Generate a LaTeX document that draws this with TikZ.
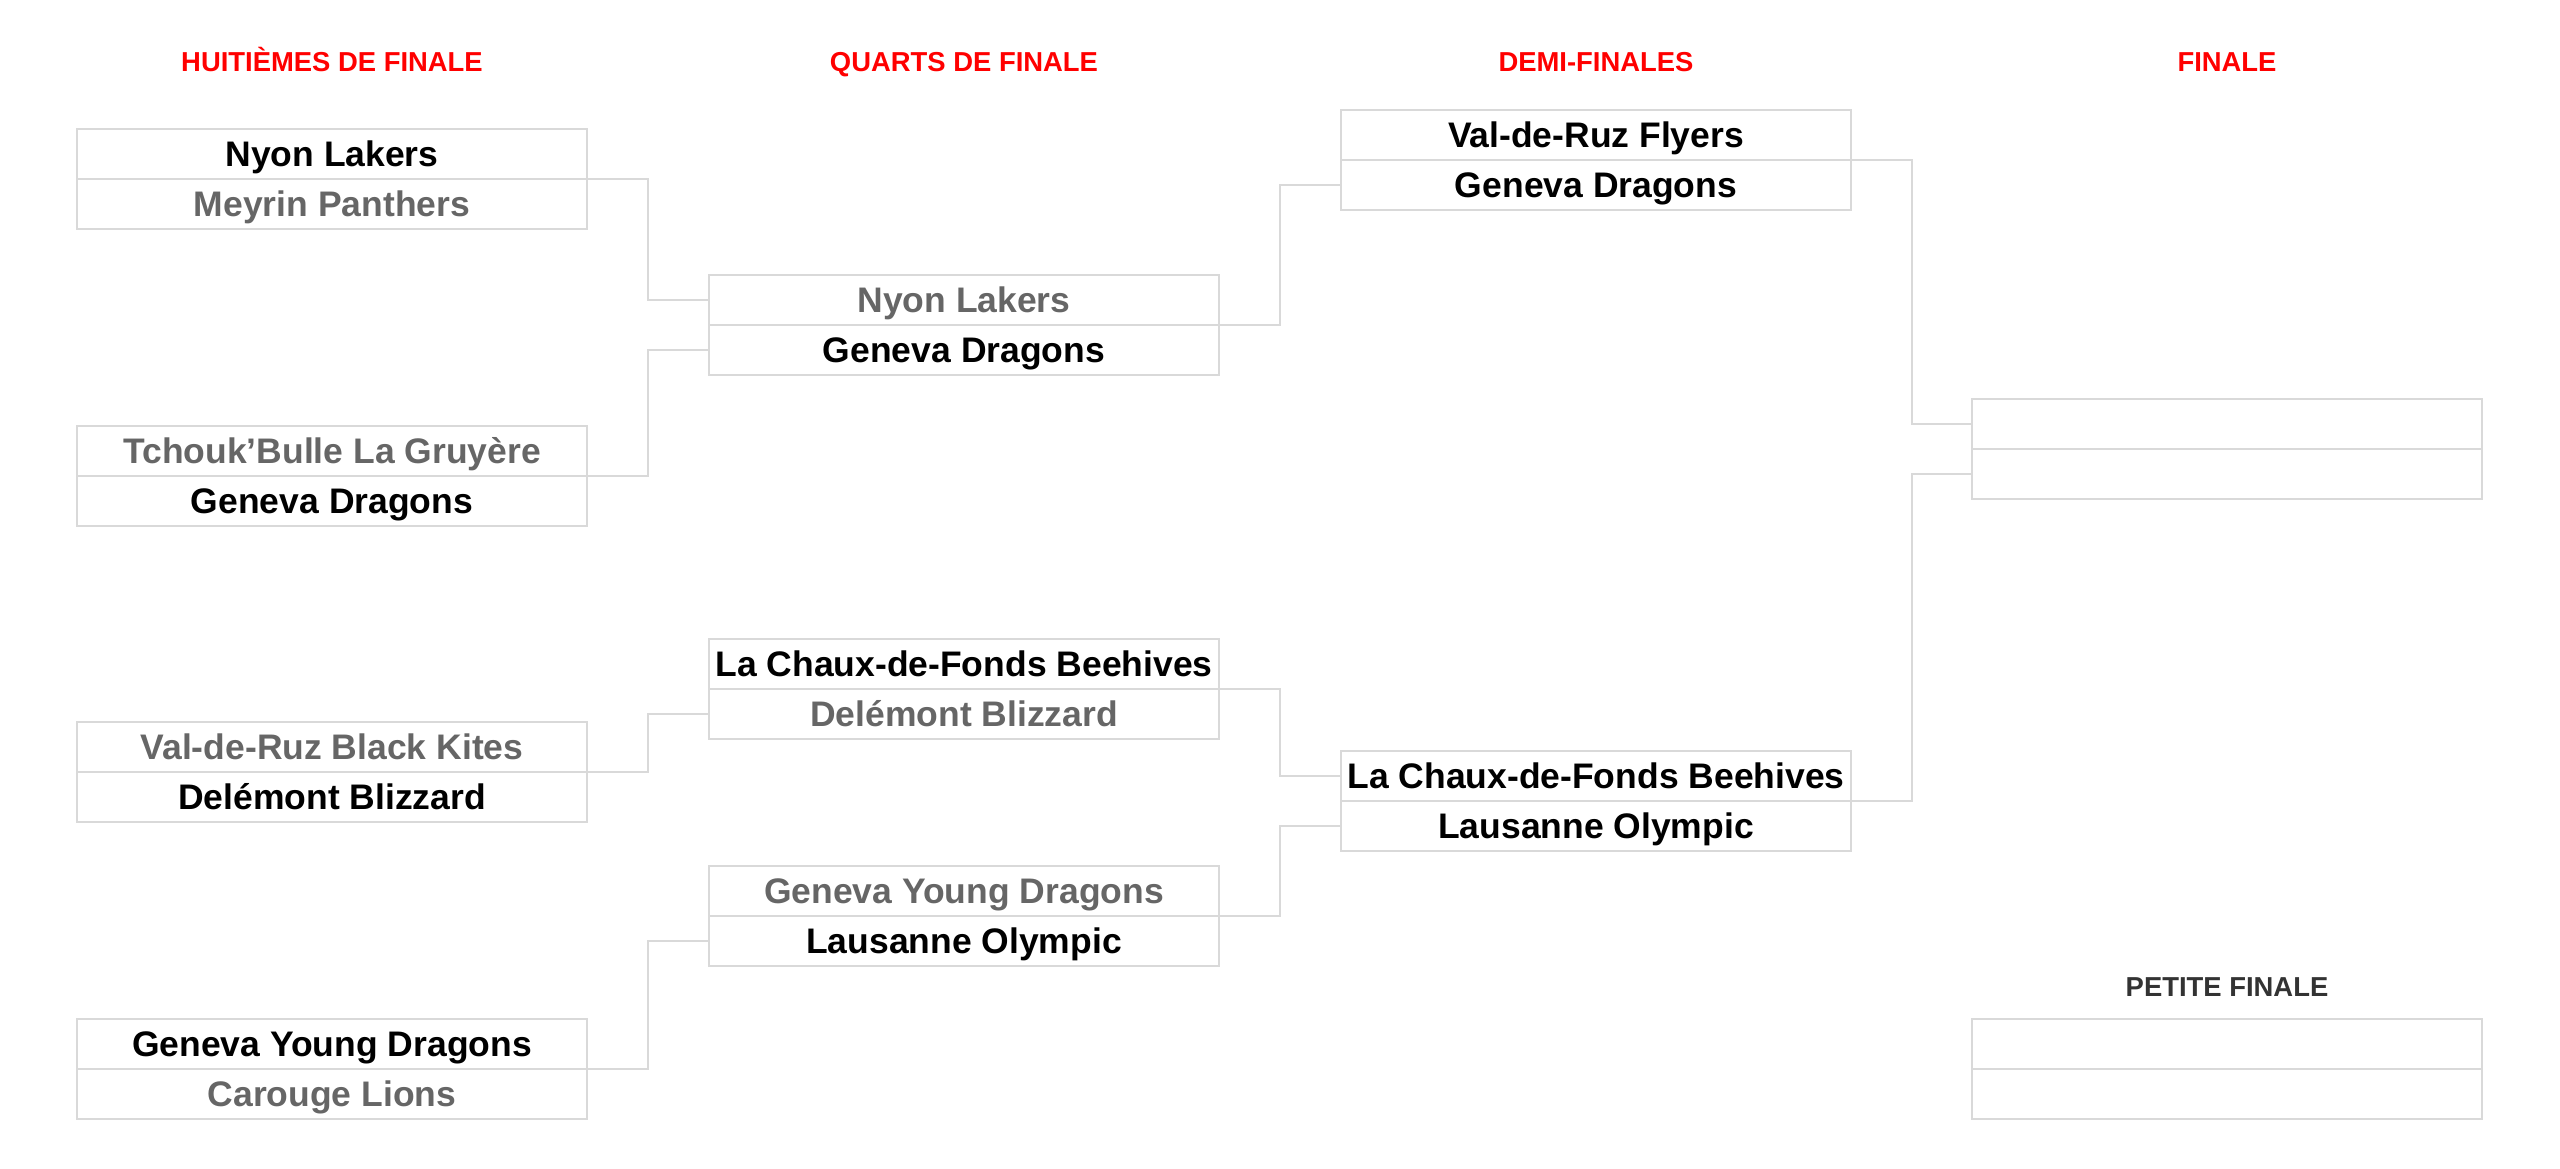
\documentclass[tikz,border=0pt]{standalone}
\usepackage{fontspec}
\setmainfont{Liberation Sans}
\usetikzlibrary{positioning}
\definecolor{boxgray}{HTML}{D9D9D9}
\definecolor{losegray}{HTML}{666666}
\definecolor{roundred}{HTML}{FF0000}
\definecolor{darktitle}{HTML}{333333}
\tikzset{
    slot/.style={draw=boxgray, line width=0.6pt, minimum width=5.1cm, minimum height=0.5cm,
        inner sep=0pt, outer sep=0pt, text height=7.3pt, text depth=0pt,
        font=\fontsize{10.1}{12}\selectfont\bfseries},
    winner/.style={slot, text=black},
    loser/.style={slot, text=losegray},
    roundtitle/.style={text=roundred, inner sep=0pt, text height=5.6pt, text depth=0pt,
        font=\fontsize{7.8}{9}\selectfont\bfseries},
    link/.style={draw=boxgray, line width=0.6pt},
}

\begin{document}
\begin{tikzpicture}
    \useasboundingbox (0,0) rectangle (25.6,-11.69);

    \node[roundtitle] (t1) at (3.32,-0.62) {HUITIÈMES DE FINALE};
    \node[roundtitle] (t2) at (9.64,-0.62) {QUARTS DE FINALE};
    \node[roundtitle] (t3) at (15.96,-0.62) {DEMI-FINALES};
    \node[roundtitle] (t4) at (22.27,-0.62) {FINALE};
    \node[roundtitle, text=darktitle] (t5) at (22.27,-9.87) {PETITE FINALE};

    \node[winner] (h1a) at (3.32,-1.54) {Nyon Lakers};
    \node[loser, below=0pt of h1a] (h1b) {Meyrin Panthers};
    \node[loser] (h2a) at (3.32,-4.51) {Tchouk’Bulle La Gruyère};
    \node[winner, below=0pt of h2a] (h2b) {Geneva Dragons};
    \node[loser] (h3a) at (3.32,-7.47) {Val-de-Ruz Black Kites};
    \node[winner, below=0pt of h3a] (h3b) {Delémont Blizzard};
    \node[winner] (h4a) at (3.32,-10.44) {Geneva Young Dragons};
    \node[loser, below=0pt of h4a] (h4b) {Carouge Lions};

    \node[loser] (q1a) at (9.64,-3.00) {Nyon Lakers};
    \node[winner, below=0pt of q1a] (q1b) {Geneva Dragons};
    \node[winner] (q2a) at (9.64,-6.64) {La Chaux-de-Fonds Beehives};
    \node[loser, below=0pt of q2a] (q2b) {Delémont Blizzard};
    \node[loser] (q3a) at (9.64,-8.91) {Geneva Young Dragons};
    \node[winner, below=0pt of q3a] (q3b) {Lausanne Olympic};

    \node[winner] (d1a) at (15.96,-1.35) {Val-de-Ruz Flyers};
    \node[winner, below=0pt of d1a] (d1b) {Geneva Dragons};
    \node[winner] (d2a) at (15.96,-7.76) {La Chaux-de-Fonds Beehives};
    \node[winner, below=0pt of d2a] (d2b) {Lausanne Olympic};

    \node[slot] (f1a) at (22.27,-4.24) {};
    \node[slot, below=0pt of f1a] (f1b) {};
    \node[slot] (p1a) at (22.27,-10.44) {};
    \node[slot, below=0pt of p1a] (p1b) {};

    \draw[link] (h1a.south east) -- ++(0.61,0) |- (q1a.west);
    \draw[link] (h2a.south east) -- ++(0.61,0) |- (q1b.west);
    \draw[link] (h3a.south east) -- ++(0.61,0) |- (q2b.west);
    \draw[link] (h4a.south east) -- ++(0.61,0) |- (q3b.west);
    \draw[link] (q1a.south east) -- ++(0.61,0) |- (d1b.west);
    \draw[link] (q2a.south east) -- ++(0.61,0) |- (d2a.west);
    \draw[link] (q3a.south east) -- ++(0.61,0) |- (d2b.west);
    \draw[link] (d1a.south east) -- ++(0.61,0) |- (f1a.west);
    \draw[link] (d2a.south east) -- ++(0.61,0) |- (f1b.west);
\end{tikzpicture}
\end{document}
